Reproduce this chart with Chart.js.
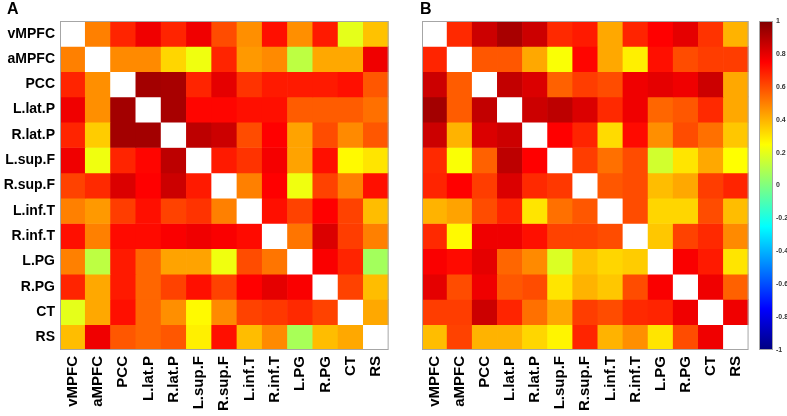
<!DOCTYPE html>
<html>
<head>
<meta charset="utf-8">
<script src="https://cdn.jsdelivr.net/npm/chart.js@4.4.1/dist/chart.umd.min.js"></script>
<style>
  html, body { margin: 0; padding: 0; background: #fff; }
  #wrap { position: relative; width: 787px; height: 416px; overflow: hidden; }
  canvas { position: absolute; top: 0; }
  .panel-letter { position: absolute; top: 0; font: bold 16px "Liberation Sans", Arial, sans-serif; color: #000; }
</style>
</head>
<body>
<div id="wrap">
  <canvas id="chart-a" width="400" height="416" style="left:0"></canvas>
  <canvas id="chart-b" width="360" height="416" style="left:400px"></canvas>
  <canvas id="colorbar" width="37" height="416" style="left:750px"></canvas>
  <div class="panel-letter" style="left:7px">A</div>
  <div class="panel-letter" style="left:420px">B</div>
</div>
<script>
const regions = ["vMPFC", "aMPFC", "PCC", "L.lat.P", "R.lat.P", "L.sup.F", "R.sup.F", "L.inf.T", "R.inf.T", "L.PG", "R.PG", "CT", "RS"];

// rows top to bottom, columns left to right; null = diagonal (white)
const corrA = [
  [null, 0.50, 0.68, 0.78, 0.68, 0.78, 0.60, 0.47, 0.72, 0.47, 0.70, 0.20, 0.37],
  [0.50, null, 0.48, 0.48, 0.33, 0.22, 0.68, 0.45, 0.48, 0.12, 0.42, 0.42, 0.78],
  [0.68, 0.47, null, 0.93, 0.92, 0.68, 0.80, 0.65, 0.70, 0.70, 0.70, 0.72, 0.58],
  [0.78, 0.47, 0.93, null, 0.92, 0.74, 0.74, 0.72, 0.72, 0.57, 0.57, 0.57, 0.53],
  [0.68, 0.35, 0.93, 0.93, null, 0.88, 0.85, 0.60, 0.75, 0.43, 0.60, 0.48, 0.58],
  [0.78, 0.22, 0.68, 0.74, 0.88, null, 0.70, 0.65, 0.77, 0.43, 0.72, 0.26, 0.30],
  [0.62, 0.67, 0.82, 0.75, 0.85, 0.70, null, 0.50, 0.75, 0.22, 0.62, 0.50, 0.72],
  [0.50, 0.45, 0.63, 0.72, 0.62, 0.65, 0.50, null, 0.72, 0.62, 0.75, 0.62, 0.38],
  [0.72, 0.50, 0.73, 0.73, 0.76, 0.78, 0.76, 0.73, null, 0.52, 0.82, 0.63, 0.50],
  [0.50, 0.12, 0.70, 0.55, 0.43, 0.43, 0.22, 0.60, 0.52, null, 0.76, 0.68, 0.07],
  [0.68, 0.42, 0.70, 0.55, 0.62, 0.72, 0.62, 0.75, 0.80, 0.76, null, 0.62, 0.38],
  [0.20, 0.42, 0.72, 0.55, 0.47, 0.26, 0.48, 0.62, 0.64, 0.67, 0.62, null, 0.42],
  [0.38, 0.78, 0.58, 0.55, 0.58, 0.28, 0.72, 0.38, 0.48, 0.08, 0.38, 0.42, null],
];

const corrB = [
  [null, 0.67, 0.85, 0.92, 0.85, 0.67, 0.70, 0.42, 0.68, 0.75, 0.80, 0.65, 0.40],
  [0.68, null, 0.58, 0.58, 0.42, 0.24, 0.74, 0.42, 0.28, 0.72, 0.60, 0.63, 0.63],
  [0.85, 0.57, null, 0.87, 0.82, 0.56, 0.63, 0.60, 0.78, 0.80, 0.78, 0.85, 0.42],
  [0.93, 0.57, 0.87, null, 0.85, 0.88, 0.82, 0.67, 0.78, 0.55, 0.58, 0.67, 0.42],
  [0.85, 0.40, 0.82, 0.85, null, 0.75, 0.68, 0.32, 0.73, 0.47, 0.60, 0.53, 0.36],
  [0.67, 0.24, 0.56, 0.88, 0.75, null, 0.63, 0.53, 0.60, 0.16, 0.30, 0.42, 0.25],
  [0.68, 0.75, 0.63, 0.82, 0.67, 0.64, null, 0.58, 0.60, 0.38, 0.42, 0.63, 0.68],
  [0.40, 0.43, 0.60, 0.68, 0.30, 0.53, 0.58, null, 0.60, 0.33, 0.33, 0.60, 0.38],
  [0.67, 0.26, 0.78, 0.78, 0.72, 0.62, 0.62, 0.60, null, 0.36, 0.62, 0.67, 0.48],
  [0.76, 0.73, 0.80, 0.55, 0.48, 0.18, 0.37, 0.33, 0.35, null, 0.76, 0.70, 0.30],
  [0.80, 0.60, 0.78, 0.58, 0.60, 0.30, 0.40, 0.36, 0.60, 0.76, null, 0.78, 0.56],
  [0.63, 0.63, 0.85, 0.68, 0.53, 0.42, 0.63, 0.60, 0.67, 0.68, 0.78, null, 0.78],
  [0.38, 0.62, 0.40, 0.40, 0.33, 0.27, 0.68, 0.40, 0.47, 0.30, 0.60, 0.78, null],
];

const colorbarTicks = [1, 0.8, 0.6, 0.4, 0.2, 0, -0.2, -0.4, -0.6, -0.8, -1];

const rowFont = { family: "'Liberation Sans', Arial, sans-serif", size: 14, weight: "bold" };
const colFont = { family: "'Liberation Sans', Arial, sans-serif", size: 15, weight: "bold" };

function clamp01(x) {
  return Math.min(1, Math.max(0, x));
}

// matlab style jet, value in [-1, 1]
function jet(value) {
  const t = (value + 1) / 2;
  const r = clamp01(1.5 - Math.abs(4 * t - 3));
  const g = clamp01(1.5 - Math.abs(4 * t - 2));
  const b = clamp01(1.5 - Math.abs(4 * t - 1));
  return `rgb(${Math.round(r * 255)},${Math.round(g * 255)},${Math.round(b * 255)})`;
}

const framePlugin = {
  id: "frame",
  afterDraw(chart) {
    const { ctx, chartArea } = chart;
    ctx.save();
    ctx.strokeStyle = "#a6a6a6";
    ctx.lineWidth = 1;
    ctx.strokeRect(chartArea.left + 0.5, chartArea.top + 0.5, chartArea.width - 1, chartArea.height - 1);
    ctx.restore();
  },
};

function buildDatasets(matrix) {
  return matrix.map((row, rowIndex) => ({
    data: row.map(() => [rowIndex, rowIndex + 1]),
    backgroundColor: row.map((v) => (v == null ? "#ffffff" : jet(v))),
    borderWidth: 0,
    grouped: false,
    barPercentage: 1,
    categoryPercentage: 1,
  }));
}

function renderMatrix(canvasId, matrix, showRowLabels, padding) {
  return new Chart(document.getElementById(canvasId), {
    type: "bar",
    data: { labels: regions, datasets: buildDatasets(matrix) },
    options: {
      responsive: false,
      animation: false,
      layout: { padding },
      plugins: { legend: { display: false }, tooltip: { enabled: false } },
      scales: {
        x: {
          grid: { display: false, drawTicks: false },
          border: { display: false },
          ticks: { font: colFont, color: "#000", minRotation: 90, maxRotation: 90, padding: 6, autoSkip: false },
          afterFit: (scale) => { scale.height = 66; },
        },
        y: {
          display: showRowLabels,
          min: 0,
          max: regions.length,
          reverse: true,
          grid: { display: false, drawTicks: false },
          border: { display: false },
          afterBuildTicks: (scale) => {
            scale.ticks = regions.map((_, i) => ({ value: i + 0.5 }));
          },
          ticks: {
            font: rowFont,
            color: "#000",
            padding: 5,
            autoSkip: false,
            callback: (value) => regions[Math.floor(value)],
          },
          afterFit: (scale) => { scale.width = showRowLabels ? 60 : 0; },
        },
      },
    },
    plugins: [framePlugin],
  });
}

renderMatrix("chart-a", corrA, true, { top: 21, right: 0, left: 0, bottom: 0 });
renderMatrix("chart-b", corrB, false, { top: 21, right: 0, left: 22, bottom: 0 });

const gradientPlugin = {
  id: "jet-gradient",
  beforeDatasetsDraw(chart) {
    const { ctx, chartArea, scales } = chart;
    const yTop = scales.y.getPixelForValue(1);
    const yBottom = scales.y.getPixelForValue(-1);
    const grad = ctx.createLinearGradient(0, yBottom, 0, yTop);
    [0, 1 / 8, 3 / 8, 5 / 8, 7 / 8, 1].forEach((t) => grad.addColorStop(t, jet(t * 2 - 1)));
    ctx.save();
    ctx.fillStyle = grad;
    ctx.fillRect(chartArea.left, yTop, chartArea.width, yBottom - yTop);
    ctx.strokeStyle = "#a6a6a6";
    ctx.lineWidth = 1;
    ctx.strokeRect(chartArea.left + 0.5, yTop + 0.5, chartArea.width - 1, yBottom - yTop - 1);
    ctx.restore();
  },
};

new Chart(document.getElementById("colorbar"), {
  type: "scatter",
  data: { datasets: [{ data: [] }] },
  options: {
    responsive: false,
    animation: false,
    layout: { padding: { top: 21, left: 9, right: 0, bottom: 66 } },
    plugins: { legend: { display: false }, tooltip: { enabled: false } },
    scales: {
      x: { display: false, min: 0, max: 1 },
      y: {
        position: "right",
        min: -1,
        max: 1,
        grid: { display: false, drawTicks: false },
        border: { display: false },
        afterBuildTicks: (scale) => {
          scale.ticks = colorbarTicks.map((v) => ({ value: v }));
        },
        ticks: {
          font: { family: "'Liberation Sans', Arial, sans-serif", size: 7, weight: "bold" },
          color: "#333",
          padding: 3,
          callback: (value) => String(value),
        },
        afterFit: (scale) => { scale.width = 14; },
      },
    },
  },
  plugins: [gradientPlugin],
});
</script>
</body>
</html>
